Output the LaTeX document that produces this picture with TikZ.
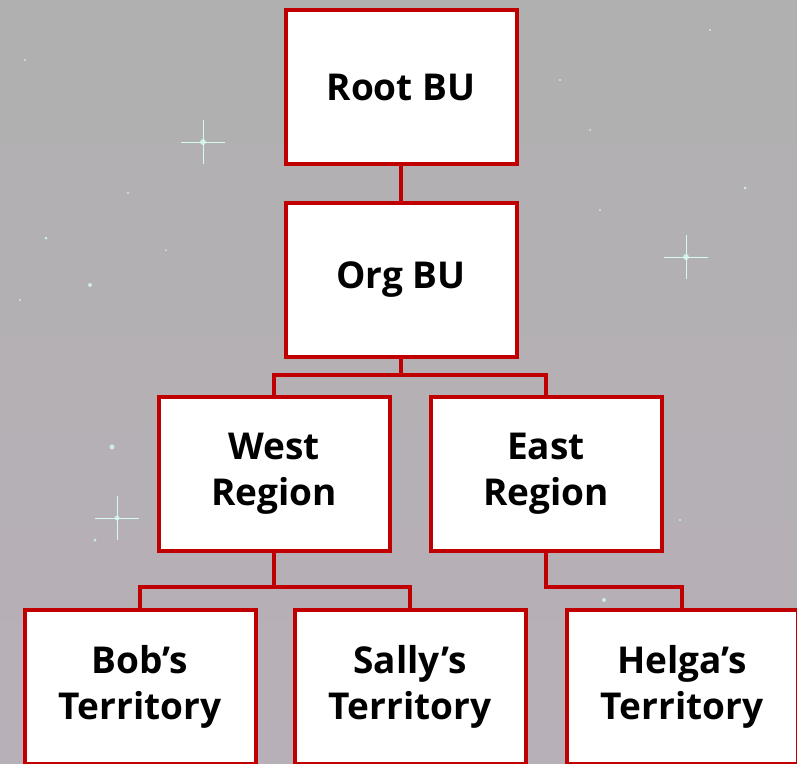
\documentclass[tikz,border=0pt]{standalone}
\usepackage{fontspec}
\setmainfont{Open Sans}
\usetikzlibrary{positioning}

\definecolor{buRed}{RGB}{192,0,0}
\definecolor{skyTop}{RGB}{176,176,176}
\definecolor{skyBottom}{RGB}{184,176,184}
\definecolor{starCol}{RGB}{215,250,240}

\begin{document}
\begin{tikzpicture}[x=1pt, y=-1pt,
        unit/.style={draw=buRed, line width=4pt, fill=white, rectangle,
            minimum width=231pt, minimum height=154pt, align=center,
            font=\bfseries\fontsize{37}{46}\selectfont},
        link/.style={draw=buRed, line width=4pt}]
        % sky
        \useasboundingbox (0,0) rectangle (797,763);
        \shade[top color=skyTop, bottom color=skyBottom] (0,0) rectangle (797,763);
        \foreach \sx/\sy/\sr in {203/142/3, 686/257/3, 117/518/2.5, 90/285/2, 112/447/2.5, 25/60/1.2,
                                 46/238/1.5, 128/193/1.2, 560/80/1.2, 745/188/1.5, 604/600/2, 710/30/1.2,
                                 20/300/1.2, 600/210/1.2, 95/540/1.5, 680/520/1.2, 166/250/1, 590/130/1} {
            \fill[starCol, opacity=0.8] (\sx,\sy) circle (\sr);
        }
        \foreach \sx/\sy in {203/142, 686/257, 117/518} {
            \draw[starCol, line width=0.8pt] (\sx-22,\sy) -- (\sx+22,\sy);
            \draw[starCol, line width=0.8pt] (\sx,\sy-22) -- (\sx,\sy+22);
        }

        % units
        \node[unit] (root) at (401, 87) {Root BU};
        \node[unit] (org) at (401, 280) {Org BU};
        \node[unit] (west) at (274, 474) {West\\Region};
        \node[unit] (east) at (546, 474) {East\\Region};
        \node[unit] (bob) at (140, 687) {Bob’s\\Territory};
        \node[unit] (sally) at (410, 687) {Sally’s\\Territory};
        \node[unit] (helga) at (682, 687) {Helga’s\\Territory};

        % links
        \draw[link] (root) -- (org);
        \draw[link] (org.south) -- ++(0,16) -| (west.north);
        \draw[link] (org.south) -- ++(0,16) -| (east.north);
        \draw[link] (west.south) -- ++(0,34) -| (bob.north);
        \draw[link] (west.south) -- ++(0,34) -| (sally.north);
        \draw[link] (east.south) -- ++(0,34) -| (helga.north);
    \end{tikzpicture}
\end{document}
